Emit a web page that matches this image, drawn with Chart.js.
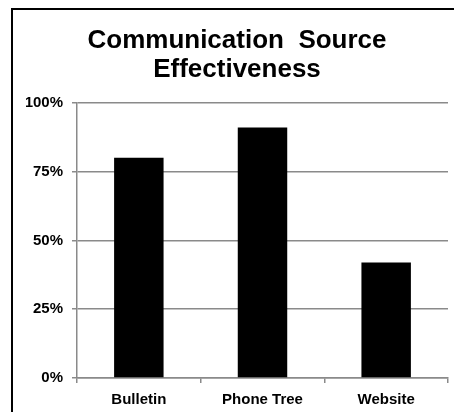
<!DOCTYPE html>
<html>
<head>
<meta charset="utf-8">
<script src="https://cdn.jsdelivr.net/npm/chart.js@4"></script>
<style>
    body { margin: 0; background: #fff; }
    #caixa { position: relative; width: 454px; height: 412px; }
    #moldura { position: absolute; left: 11px; top: 8px; right: 0; bottom: 0; border-left: 2px solid #000; border-top: 2px solid #000; pointer-events: none; }
</style>
</head>
<body>
<div id="caixa">
    <canvas id="grafico" width="454" height="412"></canvas>
    <div id="moldura"></div>
</div>
<script>
let categorias = ['Bulletin', 'Phone Tree', 'Website']
let efetividade = [80, 91, 42]
let marcas = [0, 25, 50, 75, 100]

let fonte = 'Liberation Sans, Arial, sans-serif'
let cinza = '#8a8a8a'

let ctx = document.getElementById('grafico').getContext('2d')
new Chart(ctx, {
    type: 'bar',
    data: {
        labels: categorias,
        datasets: [{
            label: 'Efetividade',
            data: efetividade,
            backgroundColor: '#000',
            borderWidth: 0,
            barPercentage: 0.4,
            categoryPercentage: 1
        }]
    },
    options: {
        responsive: false,
        animation: false,
        layout: { padding: { left: 26, right: 6, top: 0, bottom: 0 } },
        plugins: {
            legend: { display: false },
            tooltip: { enabled: false },
            title: {
                display: true,
                text: ['Communication  Source', 'Effectiveness'],
                color: '#000',
                font: { family: fonte, size: 26, weight: 'bold', lineHeight: 1.13 },
                padding: { top: 26, bottom: 18 }
            }
        },
        scales: {
            x: {
                offset: true,
                grid: { offset: true, drawOnChartArea: false, color: cinza, lineWidth: 1.5, tickLength: 5 },
                border: { color: cinza, width: 1.5 },
                ticks: { color: '#000', font: { family: fonte, size: 15, weight: 'bold' }, padding: 8, maxRotation: 0 },
                afterFit: (s) => { s.height = 34 }
            },
            y: {
                min: 0,
                max: 100,
                afterBuildTicks: (s) => { s.ticks = marcas.map(v => ({ value: v })) },
                grid: { color: cinza, lineWidth: 1.5, tickLength: 5 },
                border: { color: cinza, width: 1.5 },
                ticks: {
                    color: '#000',
                    font: { family: fonte, size: 15, weight: 'bold' },
                    padding: 9,
                    callback: (v) => v + '%'
                },
                afterFit: (s) => { s.width = 51 }
            }
        }
    }
})
</script>
</body>
</html>
